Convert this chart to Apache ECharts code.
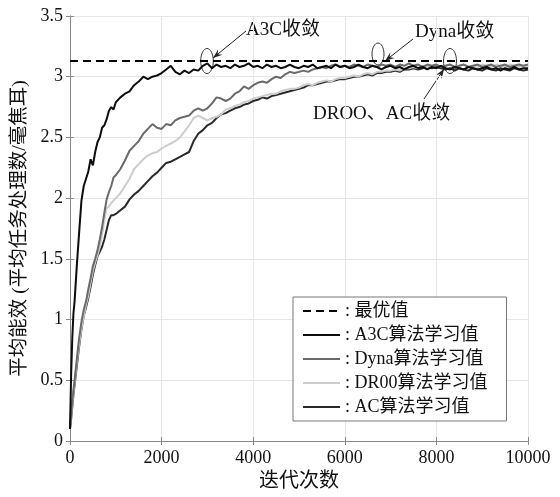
<!DOCTYPE html>
<html>
<head>
<meta charset="utf-8">
<script src="https://cdn.jsdelivr.net/npm/echarts@6/dist/echarts.min.js"></script>
<style>html,body{margin:0;padding:0;background:#fff;}#c{width:560px;height:497px;}</style>
</head>
<body>
<div id="c"></div>
<script>
// ---- data ----
const xs = [0,25,50,75,100,150,200,250,300,350,400,450,500,550,600,650,700,750,800,850,900,950,1000,
1100,1200,1300,1400,1500,1600,1700,1800,1900,2000,2100,2200,2300,2400,2500,2600,2700,2800,2900,3000,
3100,3200,3300,3400,3500,3600,3700,3800,3900,4000,4100,4200,4300,4400,4500,4600,4700,4800,4900,5000,
5100,5200,5300,5400,5500,5600,5700,5800,5900,6000,6100,6200,6300,6400,6500,6600,6700,6800,6900,7000,
7100,7200,7300,7400,7500,7600,7700,7800,7900,8000,8100,8200,8300,8400,8500,8600,8700,8800,8900,9000,
9100,9200,9300,9400,9500,9600,9700,9800,9900,10000];

const optimalValue = 3.13;

const a3c = [0.1,0.55,0.85,1.05,1.15,1.45,1.72,1.98,2.1,2.16,2.22,2.32,2.27,2.38,2.46,2.5,2.58,2.6,2.65,2.72,2.75,2.73,2.79,
2.83,2.86,2.88,2.93,2.96,3.0,2.98,3.0,3.01,3.03,3.06,3.09,3.04,3.02,3.05,3.03,3.06,3.05,3.09,3.11,
3.07,3.1,3.08,3.09,3.07,3.1,3.08,3.09,3.11,3.08,3.09,3.07,3.1,3.08,3.09,3.07,3.08,3.1,3.08,3.07,
3.09,3.08,3.1,3.07,3.08,3.09,3.07,3.1,3.08,3.09,3.07,3.08,3.1,3.08,3.07,3.09,3.08,3.06,3.08,3.09,
3.07,3.08,3.06,3.08,3.09,3.07,3.08,3.06,3.08,3.07,3.09,3.07,3.06,3.08,3.07,3.06,3.08,3.07,3.06,3.07,
3.08,3.06,3.07,3.05,3.07,3.06,3.08,3.06,3.07,3.07];

const dyna = [0.1,0.22,0.33,0.42,0.5,0.68,0.85,0.98,1.08,1.15,1.25,1.34,1.44,1.5,1.57,1.66,1.76,1.88,1.99,2.05,2.1,2.17,2.19,
2.24,2.31,2.39,2.43,2.47,2.53,2.57,2.61,2.58,2.57,2.61,2.6,2.64,2.66,2.67,2.68,2.72,2.74,2.72,2.74,
2.78,2.83,2.82,2.8,2.82,2.86,2.88,2.92,2.9,2.93,2.95,2.96,2.95,2.98,3.0,2.99,3.02,3.04,3.03,3.04,
3.05,3.04,3.06,3.07,3.08,3.07,3.09,3.1,3.08,3.09,3.08,3.1,3.09,3.08,3.1,3.09,3.08,3.1,3.09,3.1,
3.08,3.1,3.09,3.11,3.09,3.1,3.08,3.1,3.09,3.1,3.08,3.09,3.1,3.08,3.09,3.1,3.08,3.09,3.1,3.08,
3.09,3.1,3.08,3.09,3.1,3.08,3.09,3.1,3.09,3.1];

const droo = [0.1,0.2,0.3,0.4,0.48,0.65,0.8,0.93,1.03,1.12,1.2,1.3,1.4,1.47,1.53,1.6,1.7,1.82,1.92,1.93,1.96,1.98,2.0,
2.04,2.1,2.16,2.24,2.28,2.32,2.35,2.37,2.38,2.41,2.43,2.45,2.47,2.5,2.55,2.6,2.66,2.68,2.66,2.64,
2.66,2.67,2.69,2.73,2.74,2.76,2.77,2.79,2.8,2.82,2.83,2.84,2.85,2.86,2.86,2.88,2.89,2.9,2.9,2.91,
2.93,2.94,2.93,2.95,2.96,2.97,2.96,2.98,2.99,2.99,3.0,3.01,3.0,3.02,3.03,3.02,3.04,3.04,3.05,3.05,
3.06,3.05,3.07,3.07,3.08,3.07,3.09,3.08,3.09,3.1,3.08,3.09,3.1,3.08,3.09,3.1,3.08,3.09,3.08,3.1,
3.09,3.08,3.1,3.09,3.08,3.1,3.09,3.08,3.09,3.09];

const ac = [0.1,0.18,0.28,0.38,0.46,0.62,0.78,0.92,1.03,1.1,1.18,1.27,1.37,1.45,1.52,1.56,1.6,1.66,1.74,1.82,1.86,1.86,1.87,
1.9,1.93,1.99,2.03,2.06,2.1,2.14,2.18,2.21,2.25,2.29,2.3,2.32,2.34,2.36,2.38,2.47,2.53,2.56,2.6,
2.62,2.66,2.69,2.7,2.72,2.74,2.75,2.77,2.78,2.8,2.81,2.83,2.82,2.84,2.85,2.86,2.87,2.88,2.89,2.9,
2.91,2.93,2.93,2.94,2.95,2.96,2.96,2.97,2.98,2.98,2.99,3.0,3.0,3.01,3.02,3.01,3.03,3.03,3.04,3.04,
3.05,3.04,3.06,3.06,3.07,3.06,3.07,3.08,3.07,3.08,3.07,3.06,3.07,3.05,3.07,3.06,3.05,3.07,3.06,3.05,
3.07,3.06,3.05,3.07,3.06,3.05,3.07,3.06,3.05,3.06];

const seriesNames = ['最优值','A3C算法学习值','Dyna算法学习值','DR00算法学习值','AC算法学习值'];
const xTicks = {min:0, max:10000, interval:2000};
const yTicks = {min:0, max:3.5, interval:0.5};

// ---- chart ----
const FONT = "'Liberation Serif','Times New Roman','Noto Sans CJK SC',serif";
const pairs = ys => xs.map((x,i)=>[x, ys[i]]);
const chart = echarts.init(document.getElementById('c'), null, {renderer:'canvas'});

function arrow(x1,y1,x2,y2){
  const ang = Math.atan2(y2-y1, x2-x1), L = 10, W = 0.35;
  return [
    {type:'line', shape:{x1,y1,x2,y2}, style:{stroke:'#222', lineWidth:1}},
    {type:'polygon', shape:{points:[[x2,y2],[x2-L*Math.cos(ang-W), y2-L*Math.sin(ang-W)],[x2-L*0.6*Math.cos(ang), y2-L*0.6*Math.sin(ang)],[x2-L*Math.cos(ang+W), y2-L*Math.sin(ang+W)]]}, style:{fill:'#222'}}
  ];
}
const txt = (x,y,t)=>({type:'text', x, y, style:{text:t, font:"19px "+FONT, fill:'#111', textVerticalAlign:'middle'}});
const ell = (cx,cy,rx,ry)=>({type:'ellipse', shape:{cx,cy,rx,ry}, style:{fill:'none', stroke:'#333', lineWidth:1}});

const axisBase = {
  axisLine:{show:true, lineStyle:{color:'#8a8a8a', width:1}},
  axisTick:{show:true, inside:true, length:4, lineStyle:{color:'#8a8a8a'}},
};

chart.setOption({
  animation:false,
  backgroundColor:'#fff',
  textStyle:{fontFamily:FONT},
  grid:{left:70, right:32, top:16, bottom:48, containLabel:false},
  legend:{
    data:seriesNames, orient:'vertical', left:293, top:297,
    backgroundColor:'#fff', borderColor:'#777', borderWidth:1,
    padding:[5,19,5,9], itemWidth:37, itemHeight:12, itemGap:6,
    itemStyle:{color:'rgba(0,0,0,0)', borderColor:'rgba(0,0,0,0)', borderWidth:0},
    formatter:': {name}', textStyle:{fontSize:18, color:'#111', fontFamily:FONT}
  },
  xAxis:[
    Object.assign({type:'value', min:xTicks.min, max:xTicks.max, interval:xTicks.interval, position:'bottom',
      name:'迭代次数', nameLocation:'middle', nameGap:31, nameTextStyle:{fontSize:20, color:'#111', fontFamily:FONT},
      axisLabel:{fontSize:18, color:'#111', margin:8, fontFamily:FONT, formatter:v=>String(v)},
      splitLine:{show:true, lineStyle:{color:'#e6e6e6', width:1}}}, axisBase),
    Object.assign({type:'value', min:xTicks.min, max:xTicks.max, interval:xTicks.interval, position:'top',
      axisLabel:{show:false}, splitLine:{show:false}}, axisBase)
  ],
  yAxis:[
    Object.assign({type:'value', min:yTicks.min, max:yTicks.max, interval:yTicks.interval, position:'left',
      name:'平均能效 (平均任务处理数/毫焦耳)', nameLocation:'middle', nameGap:32, nameRotate:90,
      nameTextStyle:{fontSize:19.5, color:'#111', fontFamily:FONT},
      axisLabel:{fontSize:18, color:'#111', margin:7, fontFamily:FONT, formatter:v=>String(v)},
      splitLine:{show:true, lineStyle:{color:'#e6e6e6', width:1}}}, axisBase),
    Object.assign({type:'value', min:yTicks.min, max:yTicks.max, interval:yTicks.interval, position:'right',
      axisLabel:{show:false}, splitLine:{show:false}}, axisBase)
  ],
  series:[
    {name:seriesNames[4], type:'line', data:pairs(ac), showSymbol:false, symbol:'none', lineStyle:{color:'#2a2a2a', width:2}, itemStyle:{color:'#2a2a2a'}, z:2},
    {name:seriesNames[3], type:'line', data:pairs(droo), showSymbol:false, symbol:'none', lineStyle:{color:'#cdcdcd', width:2}, itemStyle:{color:'#cdcdcd'}, z:3},
    {name:seriesNames[2], type:'line', data:pairs(dyna), showSymbol:false, symbol:'none', lineStyle:{color:'#6a6a6a', width:2}, itemStyle:{color:'#6a6a6a'}, z:4},
    {name:seriesNames[1], type:'line', data:pairs(a3c), showSymbol:false, symbol:'none', lineStyle:{color:'#0d0d0d', width:2}, itemStyle:{color:'#0d0d0d'}, z:5},
    {name:seriesNames[0], type:'line', data:[[xTicks.min, optimalValue],[xTicks.max, optimalValue]], showSymbol:false, symbol:'none',
      lineStyle:{color:'#000', width:2, type:[8,5]}, itemStyle:{color:'#000'}, z:6}
  ],
  graphic:{elements:[
    ell(207,61,6.3,12.5), ...arrow(246,31,213,58), txt(246,30,'A3C收敛'),
    ell(378,54,6,11), ...arrow(413,39,385,61), txt(415,32,'Dyna收敛'),
    ell(450,61,6.5,12.5), ...arrow(424,99,444,69), txt(313,114,'DROO、AC收敛')
  ]}
});
</script>
</body>
</html>
